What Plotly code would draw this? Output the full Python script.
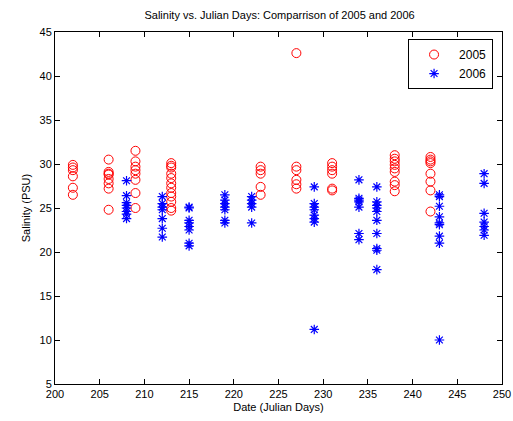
import plotly.graph_objects as go

# 2005 data (Julian day, salinity)
days_2005 = ([202]*6 + [206]*8 + [209]*8 + [213]*12 + [223]*5 + [227]*6 + [231]*6 + [238]*9 + [242]*8)
sal_2005 = [29.9, 29.6, 29.3, 28.6, 27.3, 26.5,
            30.5, 29.1, 28.8, 28.3, 27.8, 27.2, 28.9, 24.8,
            31.5, 30.3, 29.7, 29.3, 28.9, 28.2, 26.7, 25.0,
            30.1, 29.8, 29.6, 28.9, 28.4, 27.8, 27.3, 26.7, 26.3, 25.7, 25.0, 24.7,
            29.7, 29.3, 28.9, 27.4, 26.5,
            42.6, 29.7, 29.3, 28.2, 27.7, 27.2,
            30.1, 29.7, 29.3, 28.9, 27.2, 27.0,
            31.0, 30.6, 30.3, 29.9, 29.5, 29.1, 28.0, 27.6, 26.9,
            30.8, 30.5, 30.3, 30.1, 28.9, 28.0, 27.0, 24.6]

# 2006 data
days_2006 = ([208]*8 + [212]*7 + [215]*8 + [219]*7 + [222]*5 + [229]*8 + [234]*7 + [236]*10 + [243]*9 + [248]*7)
sal_2006 = [28.1, 26.4, 25.6, 25.3, 25.0, 24.6, 24.3, 23.8,
            26.3, 25.5, 25.1, 24.8, 23.8, 22.7, 21.7,
            25.1, 25.0, 23.6, 23.3, 22.9, 22.5, 21.0, 20.7,
            26.5, 25.9, 25.5, 25.1, 24.8, 23.6, 23.3,
            26.3, 25.9, 25.5, 25.1, 23.3,
            27.4, 25.5, 25.1, 24.8, 24.2, 23.8, 23.4, 11.2,
            28.2, 26.1, 25.7, 25.1, 22.1, 21.4, 25.9,
            27.4, 25.7, 25.3, 25.0, 24.6, 23.6, 22.1, 20.4, 20.2, 18.0,
            26.5, 25.2, 24.0, 23.3, 23.1, 21.8, 21.0, 10.0, 26.3,
            28.9, 27.8, 24.4, 23.4, 22.9, 22.5, 21.9]

x_ticks = list(range(200, 251, 5))
y_ticks = list(range(5, 46, 5))

FONT = "Liberation Sans, Arial"

fig = go.Figure()
fig.add_trace(go.Scatter(x=days_2005, y=sal_2005, mode="markers", name="2005",
                         marker=dict(symbol="circle-open", size=9, color="#ff0000",
                                     line=dict(width=1, color="#ff0000"))))
fig.add_trace(go.Scatter(x=days_2006, y=sal_2006, mode="markers", name="2006",
                         marker=dict(symbol="asterisk-open", size=8, color="#0000ff",
                                     line=dict(width=1.2, color="#0000ff"))))

axis_common = dict(showgrid=False, zeroline=False, showline=True, linecolor="black",
                   linewidth=1, mirror="ticks", ticks="inside", ticklen=5, automargin=False,
                   tickcolor="black", tickfont=dict(family=FONT, size=11, color="black"))

fig.update_layout(
    width=513, height=421,
    margin=dict(l=55, r=11, t=32, b=37),
    paper_bgcolor="white", plot_bgcolor="white",
    title=dict(text="Salinity vs. Julian Days: Comparrison of 2005 and 2006",
               x=0.545, xanchor="center", y=0.965, yanchor="middle",
               font=dict(family=FONT, size=11, color="black")),
    xaxis=dict(range=[200, 250], tickvals=x_ticks, title=dict(text="Date (Julian Days)", standoff=4,
               font=dict(family=FONT, size=11, color="black")), **axis_common),
    yaxis=dict(range=[5, 45], tickvals=y_ticks, title=dict(text="Salinity (PSU)", standoff=6,
               font=dict(family=FONT, size=11, color="black")), **axis_common),
    legend=dict(x=0.98, y=0.98, xanchor="right", yanchor="top", bordercolor="black",
                borderwidth=1, bgcolor="white", itemwidth=40,
                font=dict(family=FONT, size=12, color="black")),
    showlegend=True,
)

fig.write_html("out.html")
